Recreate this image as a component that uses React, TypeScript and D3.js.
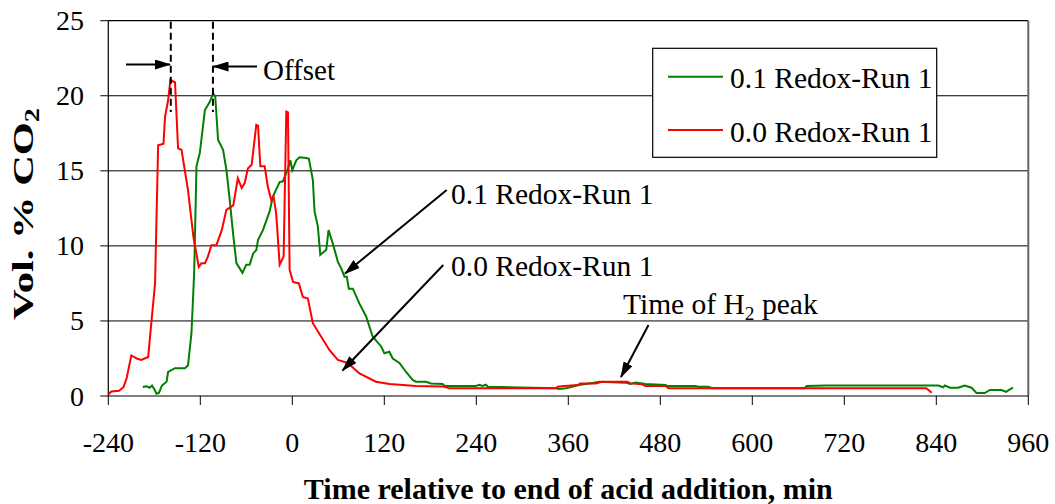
import React from "react";
import * as d3 from "d3";

// ---- Data ----
const redTime = [-240, -236, -226, -220, -216, -210, -203, -197, -188, -184, -179, -175, -168, -166, -162, -159, -153, -149, -144.5, -136, -129, -122, -118.5, -114, -110, -105.5, -99, -92, -86, -77, -71, -66, -62, -58, -53, -47, -44.7, -41.7, -36, -32, -27.4, -24.5, -21, -16.5, -11.3, -7.8, -5.7, -3.5, 1, 8.6, 13.8, 20.3, 26.8, 37.7, 48.6, 59.4, 72.4, 87.6, 109, 127, 144, 161, 196, 205, 270, 344, 346, 355, 372, 376, 396, 404, 437, 441, 456, 461, 487, 491, 827, 834];
const redValue = [0.1, 0.3, 0.35, 0.6, 1.2, 2.7, 2.5, 2.4, 2.6, 4.8, 7.5, 16.7, 16.8, 18.6, 19.7, 21.05, 20.9, 16.5, 16.4, 13.7, 10.6, 8.6, 8.85, 8.85, 9.3, 10.05, 10.05, 11.05, 12.4, 12.7, 14.5, 13.85, 14.2, 15.15, 15.4, 18.05, 18.0, 15.3, 15.3, 13.95, 13.05, 13.3, 12.15, 8.75, 9.3, 18.95, 18.9, 8.4, 7.6, 7.5, 6.6, 6.5, 4.85, 3.95, 3.05, 2.4, 2.2, 1.5, 0.95, 0.8, 0.73, 0.67, 0.64, 0.51, 0.51, 0.51, 0.62, 0.66, 0.73, 0.84, 0.84, 0.95, 0.95, 0.84, 0.78, 0.66, 0.66, 0.51, 0.51, 0.22];

const greenTime = [-195, -190, -186, -183, -180, -177, -174, -170, -164, -162, -153, -140, -136, -131.5, -128, -125, -120.6, -114, -107.6, -103.3, -100.5, -96.8, -90.3, -85.9, -81.6, -77.3, -72.9, -65, -60, -55.6, -51, -46.9, -44.7, -38.3, -29.6, -25.2, -16.5, -12.2, -5.7, -2.6, 0, 5.2, 9.5, 18.2, 21.6, 26.8, 29, 33.3, 36.5, 44.3, 47.3, 52.9, 59.4, 63.8, 68.1, 71.1, 73.7, 78.9, 87.6, 96.3, 104.9, 115.9, 120.1, 126.6, 131, 139.7, 148.4, 157, 161.4, 174.4, 180.9, 196, 199, 239.5, 244, 248, 252.6, 255, 270, 344, 348, 357, 374, 393.5, 400, 434.6, 441, 447.6, 460.8, 486.8, 489, 525.8, 530, 543, 547.4, 668, 671, 697, 842.5, 849, 851, 858, 868.5, 877, 886, 892.4, 903, 910, 925, 931, 936, 940];
const greenValue = [0.6, 0.65, 0.55, 0.7, 0.45, 0.15, 0.2, 0.7, 0.95, 1.6, 1.85, 1.85, 2.05, 4.2, 8.2, 15.3, 16.2, 19.05, 19.6, 20.15, 19.95, 17.05, 16.4, 15.05, 13.05, 10.85, 8.85, 8.2, 8.75, 8.75, 9.5, 9.73, 10.4, 11.05, 12.3, 13.3, 14.25, 14.3, 15.15, 15.7, 15.05, 15.7, 15.9, 15.85, 15.8, 14.4, 12.3, 11.3, 9.4, 9.75, 11.05, 10.15, 8.95, 8.5, 7.95, 7.95, 7.15, 7.15, 6.15, 5.3, 3.95, 3.3, 2.85, 2.95, 2.5, 2.2, 1.6, 1.07, 0.95, 0.95, 0.84, 0.8, 0.67, 0.67, 0.75, 0.67, 0.75, 0.62, 0.6, 0.52, 0.47, 0.51, 0.73, 0.89, 0.95, 0.89, 0.8, 0.89, 0.8, 0.73, 0.66, 0.66, 0.62, 0.62, 0.52, 0.52, 0.66, 0.7, 0.7, 0.58, 0.7, 0.55, 0.55, 0.7, 0.55, 0.2, 0.2, 0.4, 0.4, 0.27, 0.44, 0.55];

const xTicks = [-240, -120, 0, 120, 240, 360, 480, 600, 720, 840, 960];
const yTicks = [0, 5, 10, 15, 20, 25];
const seriesNames = ["0.1 Redox-Run 1", "0.0 Redox-Run 1"];
const xTitle = "Time relative to end of acid addition, min";

const W = 1055, H = 504;
const L = 108.3, R = 1028.3, T = 20.7, B = 396;
const FONT = "'Liberation Serif', 'Times New Roman', serif";

export default function App() {
  const x = d3.scaleLinear().domain([-240, 960]).range([L, R]);
  const y = d3.scaleLinear().domain([0, 25]).range([B, T]);
  const line = d3.line<[number, number]>().x(d => x(d[0])).y(d => y(d[1]));
  const green = line(greenTime.map((t, i) => [t, greenValue[i]]) as [number, number][]) || "";
  const red = line(redTime.map((t, i) => [t, redValue[i]]) as [number, number][]) || "";

  return (
    <svg width={W} height={H} style={{ position: "absolute", left: 0, top: 0, background: "#fff" }} fontFamily={FONT}>
      <defs>
        <marker id="ah" viewBox="0 0 16 10" refX="15" refY="5" markerWidth="16" markerHeight="10" markerUnits="userSpaceOnUse" orient="auto">
          <path d="M0,0 L16,5 L0,10 Z" fill="#000" />
        </marker>
      </defs>
      {/* grid lines */}
      {yTicks.filter(v => v > 0 && v < 25).map(v => (
        <line key={v} x1={L} x2={R} y1={y(v)} y2={y(v)} stroke="#000" strokeWidth={1} />
      ))}
      {/* plot border top and right */}
      <line x1={L} x2={R} y1={T} y2={T} stroke="#000" strokeWidth={1.2} />
      <line x1={R} x2={R} y1={T} y2={B} stroke="#666" strokeWidth={2} />
      {/* axes */}
      <line x1={L} x2={L} y1={T} y2={B} stroke="#000" strokeWidth={1.2} />
      <line x1={L} x2={R} y1={B} y2={B} stroke="#000" strokeWidth={1.2} />
      {yTicks.map(v => (
        <g key={v}>
          <line x1={L - 8} x2={L} y1={y(v)} y2={y(v)} stroke="#000" />
          <text x={84} y={y(v) + 9.5} fontSize={28} textAnchor="end">{v}</text>
        </g>
      ))}
      {xTicks.map(v => (
        <g key={v}>
          <line x1={x(v)} x2={x(v)} y1={B} y2={B + 9} stroke="#000" />
          <text x={x(v)} y={452} fontSize={28} textAnchor="middle">{v}</text>
        </g>
      ))}
      {/* series */}
      <path d={green} fill="none" stroke="#008000" strokeWidth={2} />
      <path d={red} fill="none" stroke="#ff0000" strokeWidth={2} />

      {/* Offset annotation */}
      <line x1={x(-158.5)} x2={x(-158.5)} y1={T + 1} y2={112} stroke="#000" strokeWidth={2} strokeDasharray="7,4" />
      <line x1={x(-103.5)} x2={x(-103.5)} y1={T + 1} y2={112} stroke="#000" strokeWidth={2} strokeDasharray="7,4" />
      <line x1={126} y1={64.5} x2={170} y2={64.5} stroke="#000" strokeWidth={2} markerEnd="url(#ah)" />
      <line x1={257} y1={66.5} x2={213.5} y2={66.5} stroke="#000" strokeWidth={2} markerEnd="url(#ah)" />
      <text x={263} y={79.5} fontSize={29}>Offset</text>

      {/* series annotations */}
      <line x1={446.7} y1={190} x2={345} y2={273.5} stroke="#000" strokeWidth={2} markerEnd="url(#ah)" />
      <text x={451} y={203.5} fontSize={29.5}>{seriesNames[0]}</text>
      <line x1={443.3} y1={265} x2={342.5} y2={370.5} stroke="#000" strokeWidth={2} markerEnd="url(#ah)" />
      <text x={451} y={275.5} fontSize={29.5}>{seriesNames[1]}</text>

      {/* H2 peak */}
      <line x1={648.5} y1={325} x2={621} y2={377} stroke="#000" strokeWidth={2} markerEnd="url(#ah)" />
      <text x={623} y={313.5} fontSize={29.5}>
        Time of H<tspan fontSize={19.5} dy={6}>2</tspan><tspan dy={-6}> peak</tspan>
      </text>

      {/* legend */}
      <rect x={652.7} y={48.3} width={284} height={109} fill="#fff" stroke="#000" strokeWidth={1.2} />
      <line x1={668} x2={723} y1={76.7} y2={76.7} stroke="#008000" strokeWidth={2} />
      <text x={730} y={88} fontSize={29.5}>{seriesNames[0]}</text>
      <line x1={668} x2={723} y1={130} y2={130} stroke="#ff0000" strokeWidth={2} />
      <text x={730} y={141.5} fontSize={29.5}>{seriesNames[1]}</text>

      {/* axis titles */}
      <text x={(L + R) / 2} y={499} fontSize={30} fontWeight="bold" textAnchor="middle">{xTitle}</text>
      <text transform={`translate(33, 214) rotate(-90)`} fontSize={30} fontWeight="bold" textAnchor="middle"
        textLength={212} lengthAdjust="spacingAndGlyphs">
        Vol. % CO<tspan fontSize={20} dy={6}>2</tspan>
      </text>
    </svg>
  );
}
